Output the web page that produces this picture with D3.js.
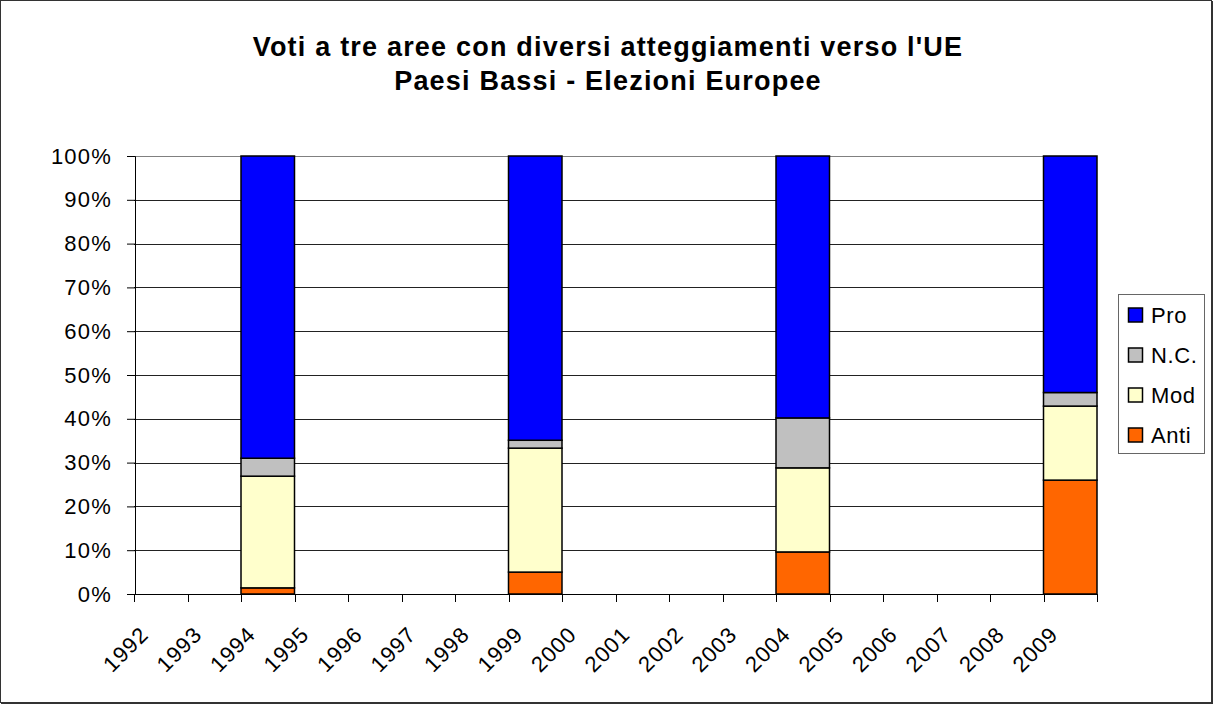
<!DOCTYPE html>
<html>
<head>
<meta charset="utf-8">
<script src="https://cdn.jsdelivr.net/npm/d3@7"></script>
<style>
  html, body { margin: 0; padding: 0; background: #fff; }
  svg { display: block; font-family: Arial, "Liberation Sans", sans-serif; }
</style>
</head>
<body>
<svg id="chart" width="1214" height="705"></svg>
<script>
// Election years and vote shares (%) per area; null where no European election took place
const years = ["1992","1993","1994","1995","1996","1997","1998","1999","2000",
               "2001","2002","2003","2004","2005","2006","2007","2008","2009"];
const anti = [null, null, 1.4, null, null, null, null, 5.0, null, null, null, null, 9.6, null, null, null, null, 26.0];
const mod  = [null, null, 25.5, null, null, null, null, 28.3, null, null, null, null, 19.2, null, null, null, null, 16.9];
const nc   = [null, null, 4.1, null, null, null, null, 1.8, null, null, null, null, 11.4, null, null, null, null, 3.1];
const pro  = [null, null, 69.0, null, null, null, null, 64.9, null, null, null, null, 59.8, null, null, null, null, 54.0];

const seriesNames = ["Anti", "Mod", "N.C.", "Pro"];
const seriesColors = ["#FF6600", "#FFFFCC", "#C0C0C0", "#0000FF"];
const yTicks = [0, 0.1, 0.2, 0.3, 0.4, 0.5, 0.6, 0.7, 0.8, 0.9, 1.0];
const titleLines = ["Voti a tre aree con diversi atteggiamenti verso l'UE", "Paesi Bassi - Elezioni Europee"];

const svg = d3.select("#chart");
const W = 1214, H = 705;
const plot = { left: 134, right: 1097, top: 156, bottom: 594 };
const FONT = "Arial, 'Liberation Sans', sans-serif";

// Chart area frame
svg.append("rect").attr("x", 0.5).attr("y", 0.5).attr("width", W - 3).attr("height", H - 3)
  .attr("fill", "#fff").attr("stroke", "#333").attr("stroke-width", 1);
svg.append("line").attr("x1", W - 2).attr("x2", W - 2).attr("y1", 1).attr("y2", H - 1)
  .attr("stroke", "#333").attr("stroke-width", 2);
svg.append("line").attr("x1", 1).attr("x2", W - 1).attr("y1", H - 2).attr("y2", H - 2)
  .attr("stroke", "#333").attr("stroke-width", 2);

// Title
svg.append("g").selectAll("text").data(titleLines).join("text")
  .attr("x", 608).attr("y", (d, i) => 56 + i * 34)
  .attr("text-anchor", "middle")
  .attr("font-size", 27).attr("font-weight", "bold")
  .attr("letter-spacing", 1.2)
  .attr("fill", "#000")
  .text(d => d);

const x = d3.scaleBand().domain(years).range([plot.left, plot.right]).padding(0);
const y = d3.scaleLinear().domain([0, 1]).range([plot.bottom, plot.top]);

// Gridlines
svg.append("g").selectAll("line").data(yTicks.filter(t => t > 0)).join("line")
  .attr("x1", plot.left).attr("x2", plot.right)
  .attr("y1", d => Math.round(y(d)) + 0.5).attr("y2", d => Math.round(y(d)) + 0.5)
  .attr("stroke", d => d === 1 ? "#808080" : "#222").attr("stroke-width", 1);

// Stacked bars
const rows = years.map((yr, i) => ({ year: yr, Anti: anti[i], Mod: mod[i], "N.C.": nc[i], Pro: pro[i] }))
  .filter(r => r.Pro !== null)
  .map(r => {
    const tot = r.Anti + r.Mod + r["N.C."] + r.Pro;
    const o = { year: r.year };
    seriesNames.forEach(k => o[k] = r[k] / tot);
    return o;
  });
const stacked = d3.stack().keys(seriesNames)(rows);

svg.append("g").selectAll("g").data(stacked).join("g")
  .attr("fill", (d, i) => seriesColors[i])
  .selectAll("rect").data(d => d).join("rect")
  .attr("x", d => x(d.data.year))
  .attr("width", x.bandwidth())
  .attr("y", d => y(d[1]))
  .attr("height", d => y(d[0]) - y(d[1]))
  .attr("stroke", "#000").attr("stroke-width", 1.5);

// Y axis
const yAxis = svg.append("g").attr("transform", `translate(${plot.left + 1},0)`)
  .call(d3.axisLeft(y).tickValues(yTicks).tickFormat(d3.format(".0%")).tickSize(8).tickPadding(14));
yAxis.select(".domain").attr("stroke", "#000");
yAxis.selectAll(".tick line").attr("stroke", "#000");
yAxis.selectAll("text").attr("font-size", 22).attr("fill", "#000")
  .attr("font-family", FONT).attr("letter-spacing", 1.2).attr("x", -23);

// X axis: ticks at category boundaries, rotated labels
const xAxis = svg.append("g").attr("transform", `translate(0,${plot.bottom})`)
  .call(d3.axisBottom(x).tickSize(0).tickPadding(0));
xAxis.select(".domain").remove();
xAxis.selectAll("text")
  .attr("font-size", 22).attr("fill", "#000")
  .attr("font-family", FONT).attr("letter-spacing", 1)
  .attr("text-anchor", "end")
  .attr("y", 0).attr("dy", 0)
  .attr("transform", "translate(-11,42) rotate(-45)");

const bounds = years.map(yr => x(yr)).concat([x(years[years.length - 1]) + x.bandwidth()]);
svg.append("line").attr("x1", plot.left).attr("x2", plot.right)
  .attr("y1", plot.bottom + 0.5).attr("y2", plot.bottom + 0.5).attr("stroke", "#000");
svg.append("g").selectAll("line").data(bounds).join("line")
  .attr("x1", d => Math.round(d) + 0.5).attr("x2", d => Math.round(d) + 0.5)
  .attr("y1", plot.bottom).attr("y2", plot.bottom + 8)
  .attr("stroke", "#000");

// Legend (top to bottom: Pro, N.C., Mod, Anti)
const legend = svg.append("g");
legend.append("rect").attr("x", 1118.5).attr("y", 294.5).attr("width", 86).attr("height", 159)
  .attr("fill", "#fff").attr("stroke", "#666").attr("stroke-width", 1);
const legendItems = seriesNames.map((n, i) => ({ name: n, color: seriesColors[i] })).reverse();
const li = legend.selectAll("g.item").data(legendItems).join("g").attr("class", "item")
  .attr("transform", (d, i) => `translate(1128,${315 + i * 40})`);
li.append("rect").attr("x", 0.5).attr("y", -7).attr("width", 14).attr("height", 14)
  .attr("fill", d => d.color).attr("stroke", "#000").attr("stroke-width", 1.5);
li.append("text").attr("x", 23).attr("y", 0).attr("dy", "0.36em")
  .attr("font-size", 22).attr("letter-spacing", 0.6).attr("fill", "#000").text(d => d.name);
</script>
</body>
</html>
